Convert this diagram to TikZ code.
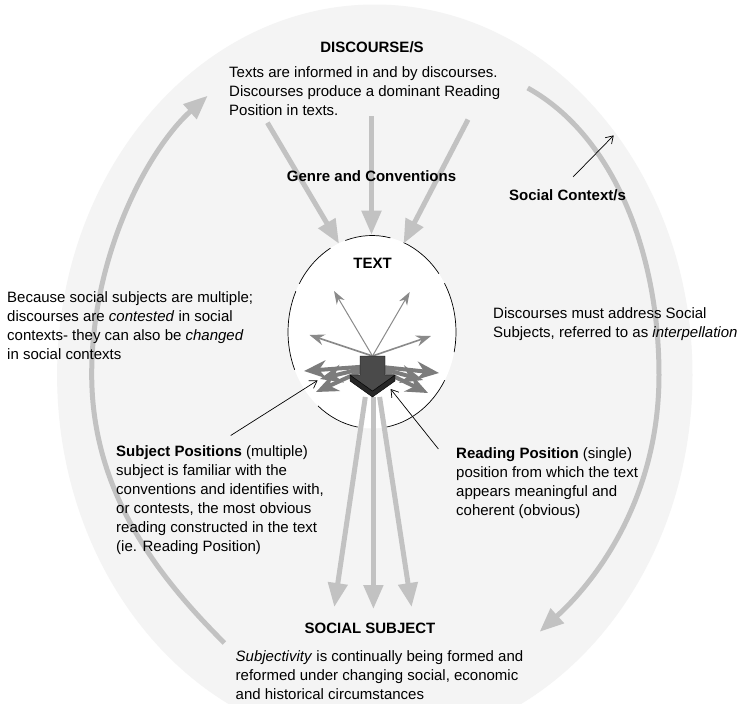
\documentclass[tikz,border=0pt]{standalone}
\usepackage{fontspec}
\setmainfont{Liberation Sans}
\usetikzlibrary{arrows.meta,shapes.geometric}
\definecolor{bgray}{HTML}{F4F4F4}
\definecolor{agray}{HTML}{C2C2C2}
\definecolor{igray}{HTML}{8A8A8A}
\definecolor{dgray}{HTML}{7C7C7C}
\definecolor{frontc}{HTML}{4A4A4A}
\definecolor{sidec}{HTML}{262626}
\begin{document}
\begin{tikzpicture}[x=1pt,y=1pt,
  txt/.style={inner sep=0pt, anchor=north west, font=\fontsize{15}{19}\selectfont, align=left},
  headtxt/.style={inner sep=0pt, anchor=base, font=\fontsize{15}{19}\selectfont\bfseries},
  bigarrow/.style={draw=agray, line width=5pt, -{Triangle[length=24pt,width=19pt]}},
  thinarr/.style={draw=igray, line width=1pt, -{Stealth[length=13pt,width=9pt,inset=4pt]}},
  midarr/.style={draw=igray, line width=1.6pt, -{Stealth[length=15pt,width=11pt,inset=5pt]}},
  thickarr/.style={draw=dgray, line width=4pt, -{Stealth[length=22pt,width=18pt,inset=7pt]}},
  pointer/.style={draw=black, line width=0.7pt, -{Straight Barb[length=7pt,width=9pt]}},
  outline/.style={draw=black, line width=0.7pt}
]
\useasboundingbox (0,0) rectangle (745,-704);
\clip (0,0) rectangle (745,-704);
\fill[white] (0,0) rectangle (745,-704);
% background
\fill[bgray] (374.8,-375) ellipse [x radius=317.7, y radius=370.5];

% coordinates
\coordinate (lcs) at (224.4,-643);
\coordinate (lcm) at (91.7,-374.5);
\coordinate (lce) at (207.7,-95.7);
\coordinate (rcs) at (527.7,-88);
\coordinate (rcm) at (659,-375);
\coordinate (rce) at (539.6,-631.8);

% big curved arrows
\draw[bigarrow] (lcs) .. controls (160.8,-579.4) and (91.7,-494.5) .. (lcm)
   .. controls (91.7,-254.5) and (148.3,-149.2) .. (lce);
\draw[bigarrow] (rcs) .. controls (615,-136.5) and (659,-255) .. (rcm)
   .. controls (659,-495) and (599,-578) .. (rce);

% inner ellipse
\node[ellipse, fill=white, inner sep=0pt, minimum width=168pt, minimum height=193pt] (te) at (372,-332) {};
\foreach \a/\b in {77.3/108.5, 37.2/67.9, -12/30.3, -82/-30, -130/-99.8, 155/203, 119.6/150}
  \draw[outline] (te.center) ++(\a:84 and 96.5) arc[start angle=\a, end angle=\b, x radius=84, y radius=96.5];

% top arrows
\coordinate (d1) at (267.4,-122.7);
\coordinate (d2) at (371.5,-116.4);
\coordinate (d3) at (468,-119.6);
\coordinate (t1) at (339,-243.7);
\coordinate (t2) at (371.5,-234.7);
\coordinate (t3) at (403.5,-243.7);
\draw[bigarrow] (d1) -- (t1);
\draw[bigarrow] (d2) -- (t2);
\draw[bigarrow] (d3) -- (t3);

% inner arrows
\coordinate (o1) at (372.5,-356);
\coordinate (o2) at (372.5,-366);
\coordinate (u1) at (334,-291);
\coordinate (u2) at (409.7,-292);
\coordinate (m1) at (309.5,-335);
\coordinate (m2) at (431,-336);
\coordinate (l1) at (304,-371);
\coordinate (l2) at (316,-392);
\coordinate (l3) at (320,-379);
\coordinate (r1) at (439,-373);
\coordinate (r2) at (428,-393);
\coordinate (r3) at (423,-380);
\draw[thinarr] (o1) -- (u1);
\draw[thinarr] (o1) -- (u2);
\draw[midarr] (o1) -- (m1);
\draw[midarr] (o1) -- (m2);
\draw[thickarr] (o2) -- (l1);
\draw[thickarr] (o2) -- (l2);
\draw[thickarr] (o2) -- (l3);
\draw[thickarr] (o2) -- (r1);
\draw[thickarr] (o2) -- (r2);
\draw[thickarr] (o2) -- (r3);

% bottom arrows
\coordinate (b1) at (365.3,-397);
\coordinate (b2) at (373.4,-397);
\coordinate (b3) at (379.6,-397);
\coordinate (s1) at (334.3,-607);
\coordinate (s2) at (373.4,-609);
\coordinate (s3) at (411.6,-607);
\draw[bigarrow] (b1) -- (s1);
\draw[bigarrow] (b2) -- (s2);
\draw[bigarrow] (b3) -- (s3);

% dark block arrow
\filldraw[fill=sidec, draw=black, line width=0.4pt] (350,-375) -- (372.5,-391) -- (395,-375) -- (395,-381) -- (372.5,-397) -- (350,-381) -- cycle;
\filldraw[fill=frontc, draw=black, line width=0.4pt] (360,-356) -- (385,-356) -- (385,-375) -- (395,-375) -- (372.5,-391) -- (350,-375) -- (360,-375) -- cycle;

% pointers
\coordinate (sps) at (230.7,-435.5);
\coordinate (spt) at (317.6,-380.4);
\coordinate (rps) at (438.4,-449);
\coordinate (rpt) at (390.6,-389);
\coordinate (scs) at (573,-177);
\coordinate (sct) at (613.7,-135.4);
\draw[pointer] (sps) -- (spt);
\draw[pointer] (rps) -- (rpt);
\draw[pointer] (scs) -- (sct);

% texts
\node[headtxt] (disc) at (372,-52) {DISCOURSE/S};
\node[txt] (disct) at (229,-66) {Texts are informed in and by discourses.\\Discourses produce a dominant Reading\\Position in texts.};
\node[headtxt] (genre) at (371.5,-181) {Genre and Conventions};
\node[headtxt, anchor=base west] (socc) at (509,-200) {Social Context/s};
\node[headtxt] (textl) at (372.5,-268) {TEXT};
\node[txt] (leftt) at (7,-291) {Because social subjects are multiple;\\discourses are \textit{contested} in social\\contexts- they can also be \textit{changed}\\in social contexts};
\node[txt] (rightt) at (493,-307) {Discourses must address Social\\Subjects, referred to as \textit{interpellation}};
\node[txt] (spos) at (116,-445) {\textbf{Subject Positions} (multiple)\\subject is familiar with the\\conventions and identifies with,\\or contests, the most obvious\\reading constructed in the text\\(ie. Reading Position)};
\node[txt] (rpos) at (456,-447) {\textbf{Reading Position} (single)\\position from which the text\\appears meaningful and\\coherent (obvious)};
\node[headtxt] (ssub) at (370,-633) {SOCIAL SUBJECT};
\node[txt] (subj) at (235.5,-650) {\textit{Subjectivity} is continually being formed and\\reformed under changing social, economic\\and historical circumstances};
\end{tikzpicture}
\end{document}
